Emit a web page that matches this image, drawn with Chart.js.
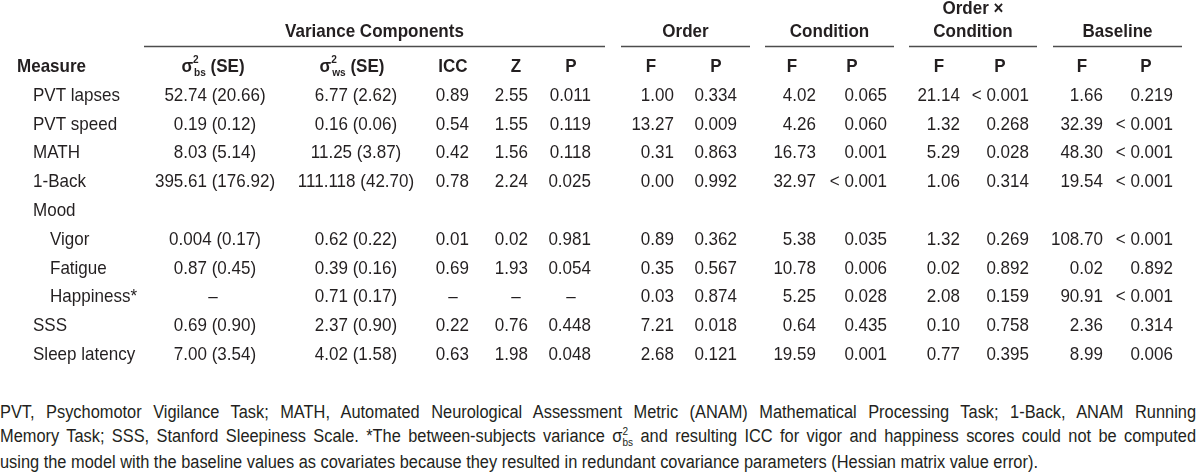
<!DOCTYPE html>
<html>
<head>
<meta charset="utf-8">
<script src="https://cdn.jsdelivr.net/npm/chart.js@4/dist/chart.umd.min.js"></script>
<style>
  body { margin: 0; background: #fff; overflow: hidden; }
  #wrap { width: 1200px; height: 400px; }
  #note { width: 1196px; font: 18px "Liberation Sans", Arial, sans-serif; color: #231f20; line-height: 24px; }
  #note > div { white-space: nowrap; transform-origin: 0 50%; transform: scaleX(0.91); }
  #note .sup { font-size: 11px; position: relative; top: -7px; }
  #note .sub { font-size: 11px; position: relative; top: 4px; margin-left: -6px; }
</style>
</head>
<body>
<div id="wrap"><canvas id="tableChart" width="1200" height="400"></canvas></div>
<div id="note">
  <div class="j">PVT, Psychomotor Vigilance Task; MATH, Automated Neurological Assessment Metric (ANAM) Mathematical Processing Task; 1-Back, ANAM Running</div>
  <div class="j">Memory Task; SSS, Stanford Sleepiness Scale. *The between-subjects variance σ<span class="sup">2</span><span class="sub">bs</span> and resulting ICC for vigor and happiness scores could not be computed</div>
  <div>using the model with the baseline values as covariates because they resulted in redundant covariance parameters (Hessian matrix value error).</div>
</div>
<script>
// rows of the table
const measures = ["PVT lapses", "PVT speed", "MATH", "1-Back", "Mood", "Vigor", "Fatigue", "Happiness*", "SSS", "Sleep latency"];
const level = [1, 1, 1, 1, 1, 2, 2, 2, 1, 1];

// variance components
const sigmaBs = ["52.74 (20.66)", "0.19 (0.12)", "8.03 (5.14)", "395.61 (176.92)", "", "0.004 (0.17)", "0.87 (0.45)", "–", "0.69 (0.90)", "7.00 (3.54)"];
const sigmaWs = ["6.77 (2.62)", "0.16 (0.06)", "11.25 (3.87)", "111.118 (42.70)", "", "0.62 (0.22)", "0.39 (0.16)", "0.71 (0.17)", "2.37 (0.90)", "4.02 (1.58)"];
const icc = ["0.89", "0.54", "0.42", "0.78", "", "0.01", "0.69", "–", "0.22", "0.63"];
const zVals = ["2.55", "1.55", "1.56", "2.24", "", "0.02", "1.93", "–", "0.76", "1.98"];
const pVar = ["0.011", "0.119", "0.118", "0.025", "", "0.981", "0.054", "–", "0.448", "0.048"];

// fixed effects
const orderF = ["1.00", "13.27", "0.31", "0.00", "", "0.89", "0.35", "0.03", "7.21", "2.68"];
const orderP = ["0.334", "0.009", "0.863", "0.992", "", "0.362", "0.567", "0.874", "0.018", "0.121"];
const condF = ["4.02", "4.26", "16.73", "32.97", "", "5.38", "10.78", "5.25", "0.64", "19.59"];
const condP = ["0.065", "0.060", "0.001", "< 0.001", "", "0.035", "0.006", "0.028", "0.435", "0.001"];
const oxcF = ["21.14", "1.32", "5.29", "1.06", "", "1.32", "0.02", "2.08", "0.10", "0.77"];
const oxcP = ["< 0.001", "0.268", "0.028", "0.314", "", "0.269", "0.892", "0.159", "0.758", "0.395"];
const baseF = ["1.66", "32.39", "48.30", "19.54", "", "108.70", "0.02", "90.91", "2.36", "8.99"];
const baseP = ["0.219", "< 0.001", "< 0.001", "< 0.001", "", "< 0.001", "0.892", "< 0.001", "0.314", "0.006"];

// column layout (x in table units, head = header centre, edge = value anchor)
const columns = [
  { title: "sigma", sub: "bs", values: sigmaBs, head: 213, edge: 215, align: "center" },
  { title: "sigma", sub: "ws", values: sigmaWs, head: 352, edge: 356, align: "center" },
  { title: "ICC", values: icc, head: 453, edge: 469, align: "right" },
  { title: "Z", values: zVals, head: 516, edge: 528, align: "right" },
  { title: "P", values: pVar, head: 571, edge: 591, align: "right" },
  { title: "F", values: orderF, head: 651, edge: 674, align: "right" },
  { title: "P", values: orderP, head: 716, edge: 737, align: "right" },
  { title: "F", values: condF, head: 792, edge: 816, align: "right" },
  { title: "P", values: condP, head: 852, edge: 887, align: "right" },
  { title: "F", values: oxcF, head: 939, edge: 960, align: "right" },
  { title: "P", values: oxcP, head: 1000, edge: 1029, align: "right" },
  { title: "F", values: baseF, head: 1082, edge: 1103, align: "right" },
  { title: "P", values: baseP, head: 1146, edge: 1173, align: "right" },
];

const groups = [
  { lines: ["Variance Components"], from: 144, to: 605 },
  { lines: ["Order"], from: 621, to: 750 },
  { lines: ["Condition"], from: 765, to: 894 },
  { lines: ["Order ×", "Condition"], from: 909, to: 1037 },
  { lines: ["Baseline"], from: 1053, to: 1182 },
];

const ink = "#231f20";
const family = '"Liberation Sans", Arial, sans-serif';
const squeeze = 0.92;

// text drawn slightly condensed, like the narrow face of the original
function put(ctx, str, x, y, align, font) {
  ctx.save();
  ctx.font = font;
  ctx.textAlign = align;
  ctx.translate(x, y);
  ctx.scale(squeeze, 1);
  ctx.fillText(str, 0, 0);
  ctx.restore();
}

function width(ctx, str, font) {
  ctx.font = font;
  return ctx.measureText(str).width * squeeze;
}

function drawSigma(ctx, cx, y, sub) {
  const big = "bold 18.5px " + family;
  const small = "bold 11px " + family;
  const wS = width(ctx, "σ", big);
  const wT = width(ctx, " (SE)", big);
  const w2 = width(ctx, "2", small);
  const wSub = width(ctx, sub, small);
  const step = Math.max(w2, wSub + 1);
  let x = cx - (wS + step + wT) / 2;
  put(ctx, "σ", x, y, "left", big);
  x += wS;
  put(ctx, "2", x, y - 7, "left", small);
  put(ctx, sub, x + 1, y + 6, "left", small);
  x += step;
  put(ctx, " (SE)", x, y, "left", big);
}

const tablePlugin = {
  id: "tablePlugin",
  afterDraw(chart) {
    const { ctx } = chart;
    const x = chart.scales.x;
    const y = chart.scales.y;
    const bold = "bold 18.5px " + family;
    const plain = "18.5px " + family;
    ctx.save();
    ctx.fillStyle = ink;
    ctx.textBaseline = "middle";

    // group headings and rules
    groups.forEach((g) => {
      const cx = x.getPixelForValue((g.from + g.to) / 2);
      g.lines.forEach((t, i) => {
        const row = g.lines.length === 2 ? -2.0 + i * 0.78 : -1.22;
        put(ctx, t, cx, y.getPixelForValue(row), "center", bold);
      });
      ctx.strokeStyle = "#4d4d4d";
      ctx.lineWidth = 1.6;
      ctx.beginPath();
      const ly = Math.round(y.getPixelForValue(-0.73)) + 0.5;
      ctx.moveTo(x.getPixelForValue(g.from), ly);
      ctx.lineTo(x.getPixelForValue(g.to), ly);
      ctx.stroke();
    });

    // column headers
    const hy = y.getPixelForValue(0);
    put(ctx, "Measure", x.getPixelForValue(17), hy, "left", bold);
    columns.forEach((c) => {
      if (c.title === "sigma") {
        drawSigma(ctx, x.getPixelForValue(c.head), hy, c.sub);
      } else {
        put(ctx, c.title, x.getPixelForValue(c.head), hy, "center", bold);
      }
    });

    // body
    measures.forEach((m, i) => {
      const ry = y.getPixelForValue(i + 1);
      put(ctx, m, x.getPixelForValue(level[i] === 1 ? 33 : 50), ry, "left", plain);
      columns.forEach((c) => {
        const v = c.values[i];
        if (!v) return;
        if (v === "–") {
          put(ctx, v, x.getPixelForValue(c.head), ry, "center", plain);
        } else {
          put(ctx, v, x.getPixelForValue(c.edge), ry, c.align, plain);
        }
      });
    });
    ctx.restore();
  },
};

const ctx = document.getElementById("tableChart").getContext("2d");
const tableChart = new Chart(ctx, {
  type: "scatter",
  data: { datasets: [] },
  options: {
    responsive: false,
    animation: false,
    events: [],
    layout: { padding: { top: 67, bottom: 45, left: 0, right: 0 } },
    plugins: { legend: { display: false }, tooltip: { enabled: false } },
    scales: {
      x: { type: "linear", min: 0, max: 1200, display: false },
      y: { type: "category", labels: ["Measure"].concat(measures), display: false },
    },
  },
  plugins: [tablePlugin],
});

// stretch the first two footnote lines to the full width
const noteScale = 0.91;
document.querySelectorAll("#note .j").forEach((el) => {
  el.style.display = "inline-block";
  const natural = el.getBoundingClientRect().width / noteScale;
  const gaps = (el.textContent.match(/ /g) || []).length;
  el.style.display = "block";
  el.style.wordSpacing = (1196 / noteScale - natural) / gaps + "px";
});
</script>
</body>
</html>
